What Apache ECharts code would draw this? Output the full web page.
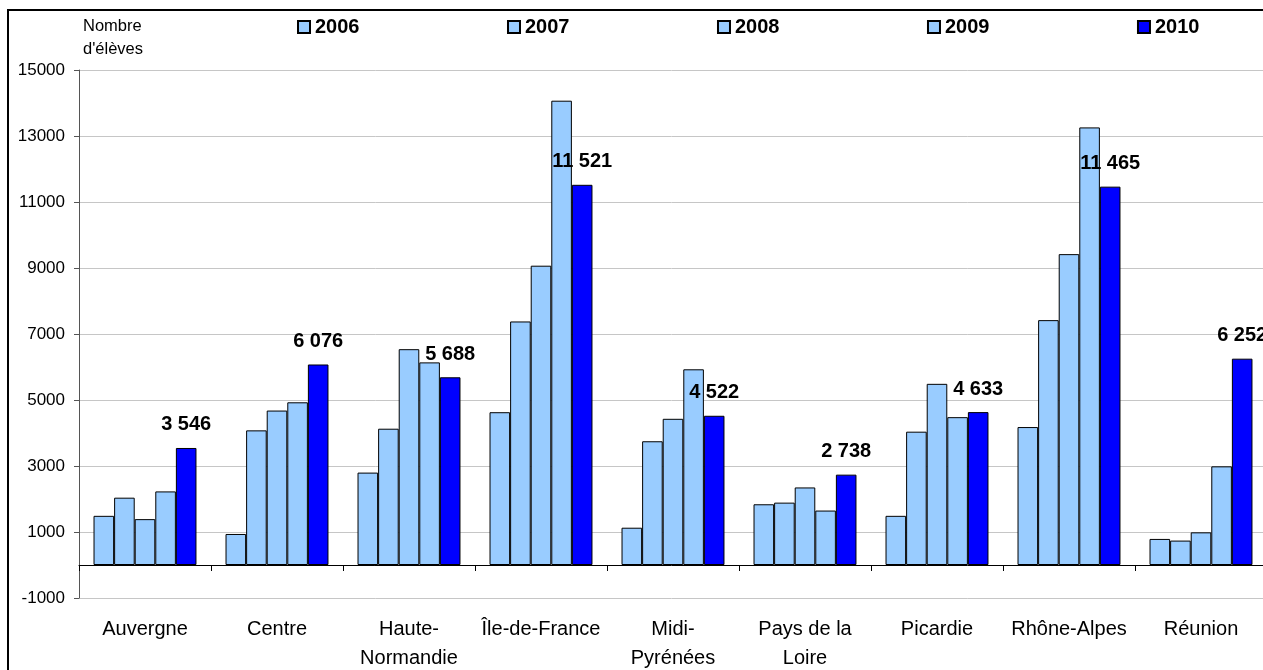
<!DOCTYPE html>
<html>
<head>
<meta charset="utf-8">
<script src="https://cdn.jsdelivr.net/npm/echarts@6/dist/echarts.min.js"></script>
<style>
html,body{margin:0;padding:0;background:#fff;}
#chart{width:1263px;height:670px;}
</style>
</head>
<body>
<div id="chart"></div>
<script>
var categories = ['Auvergne', 'Centre', 'Haute-\nNormandie', 'Île-de-France', 'Midi-\nPyrénées', 'Pays de la\nLoire', 'Picardie', 'Rhône-Alpes', 'Réunion'];
var years = ['2006', '2007', '2008', '2009', '2010'];
var v2006 = [1490, 940, 2800, 4630, 1130, 1840, 1490, 4180, 790];
var v2007 = [2040, 4080, 4130, 7380, 3750, 1890, 4040, 7420, 740];
var v2008 = [1390, 4680, 6540, 9070, 4430, 2350, 5490, 9420, 990];
var v2009 = [2230, 4930, 6140, 14070, 5930, 1650, 4480, 13260, 2990];
var v2010 = [3546, 6076, 5688, 11521, 4522, 2738, 4633, 11465, 6252];
var yAxisName = "Nombre\nd'élèves";

var FONT = '"Liberation Sans", Arial, sans-serif';
var light = '#99CCFF';
var dark = '#0000FF';

function fmtSpace(v) {
  return String(v).replace(/\B(?=(\d{3})+(?!\d))/g, ' ');
}

function barSeries(name, data, color, withLabel) {
  var s = {
    name: name,
    type: 'bar',
    data: data,
    barGap: '0%',
    barCategoryGap: '22%',
    itemStyle: { color: color, borderColor: '#000', borderWidth: 1 },
    emphasis: { disabled: true },
    animation: false
  };
  if (withLabel) {
    s.label = {
      show: true,
      position: 'top',
      distance: 13,
      color: '#000',
      fontFamily: FONT,
      fontWeight: 'bold',
      fontSize: 20,
      formatter: function (p) { return fmtSpace(p.value); }
    };
  }
  return s;
}

var chart = echarts.init(document.getElementById('chart'), null, { renderer: 'canvas' });
chart.setOption({
  animation: false,
  backgroundColor: '#fff',
  textStyle: { fontFamily: FONT },
  title: {
    text: yAxisName,
    left: 83,
    top: 15,
    padding: 0,
    textStyle: { fontFamily: FONT, fontSize: 16.5, fontWeight: 'normal', color: '#000', lineHeight: 23 }
  },
  legend: {
    data: years,
    left: 297,
    top: 17,
    padding: 0,
    itemGap: 147.5,
    itemWidth: 12,
    itemHeight: 12,
    icon: 'rect',
    selectedMode: false,
    textStyle: { fontFamily: FONT, fontSize: 20, fontWeight: 'bold', color: '#000' }
  },
  graphic: [{
    type: 'rect',
    z: -10,
    silent: true,
    shape: { x: 8, y: 10, width: 1400, height: 800 },
    style: { fill: 'none', stroke: '#000', lineWidth: 2 }
  }],
  grid: { left: 79, top: 70, width: 1188, height: 528, containLabel: false, outerBoundsMode: 'none' },
  xAxis: {
    type: 'category',
    data: categories,
    boundaryGap: true,
    axisLine: { onZero: true, lineStyle: { color: '#000', width: 1 } },
    axisTick: { show: true, length: 6, alignWithLabel: false, lineStyle: { color: '#000' } },
    axisLabel: {
      interval: 0,
      margin: 17,
      color: '#000',
      fontFamily: FONT,
      fontSize: 20,
      lineHeight: 29
    },
    splitLine: { show: false }
  },
  yAxis: {
    type: 'value',
    min: -1000,
    max: 15000,
    interval: 2000,
    axisLine: { show: true, lineStyle: { color: '#555', width: 1 } },
    axisTick: { show: true, length: 5, lineStyle: { color: '#555' } },
    axisLabel: {
      margin: 14,
      color: '#000',
      fontFamily: FONT,
      fontSize: 17,
      formatter: function (v) { return String(v); }
    },
    splitLine: { show: true, lineStyle: { color: '#c6c6c6', width: 1 } }
  },
  series: [
    barSeries('2006', v2006, light, false),
    barSeries('2007', v2007, light, false),
    barSeries('2008', v2008, light, false),
    barSeries('2009', v2009, light, false),
    barSeries('2010', v2010, dark, true)
  ]
});
</script>
</body>
</html>
